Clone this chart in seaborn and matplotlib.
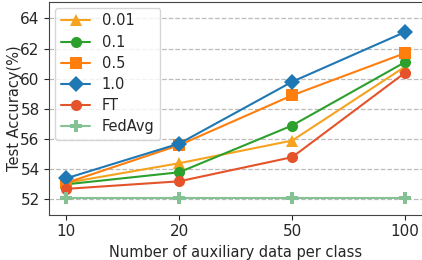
import matplotlib
matplotlib.use("Agg")
import matplotlib.pyplot as plt
import seaborn as sns
import pandas as pd

# dados
aux_data = ["10", "20", "50", "100"]
acc_001 = [53.1, 54.4, 55.9, 60.8]
acc_01 = [53.0, 53.8, 56.9, 61.1]
acc_05 = [53.1, 55.6, 58.9, 61.7]
acc_10 = [53.4, 55.7, 59.8, 63.1]
acc_ft = [52.7, 53.2, 54.8, 60.4]
acc_fedavg = [52.1, 52.1, 52.1, 52.1]

series = [
    ("0.01", acc_001, "#f5a31f", "^"),
    ("0.1", acc_01, "#2ca02c", "o"),
    ("0.5", acc_05, "#ff7f0e", "s"),
    ("1.0", acc_10, "#1f77b4", "D"),
    ("FT", acc_ft, "#e4532a", "o"),
    ("FedAvg", acc_fedavg, "#84c293", "P"),
]

sns.set_style("ticks")
plt.rcParams["font.family"] = ["DejaVu Sans"]

fig, ax = plt.subplots(figsize=(4.22, 2.60), dpi=100)
pos = list(range(len(aux_data)))

for nome, vals, cor, mk in series:
    df = pd.DataFrame({"x": pos, "y": vals})
    sns.lineplot(data=df, x="x", y="y", ax=ax, color=cor, marker=mk,
                 markersize=8, markeredgewidth=0, linewidth=1.5, label=nome)

ax.set_xticks(pos)
ax.set_xticklabels(aux_data)
ax.set_xlim(-0.15, 3.15)
ax.set_ylim(51.0, 65.1)
ax.set_yticks([52, 54, 56, 58, 60, 62, 64])
ax.yaxis.grid(True, linestyle="--", color="#bbbbbb", linewidth=0.9)
ax.set_axisbelow(True)
ax.tick_params(labelsize=11)
ax.set_xlabel("Number of auxiliary data per class", fontsize=10.5)
ax.set_ylabel("Test Accuracy(%)", fontsize=10.5, labelpad=-1)
for s in ax.spines.values():
    s.set_color("#444444")
ax.spines["right"].set_visible(False)

leg = ax.legend(loc="upper left", fontsize=10.5, frameon=True,
                labelspacing=0.42, borderaxespad=0.4)

fig.subplots_adjust(left=0.117, right=1.0, top=0.993, bottom=0.175)
fig.savefig("out.png", dpi=100)
